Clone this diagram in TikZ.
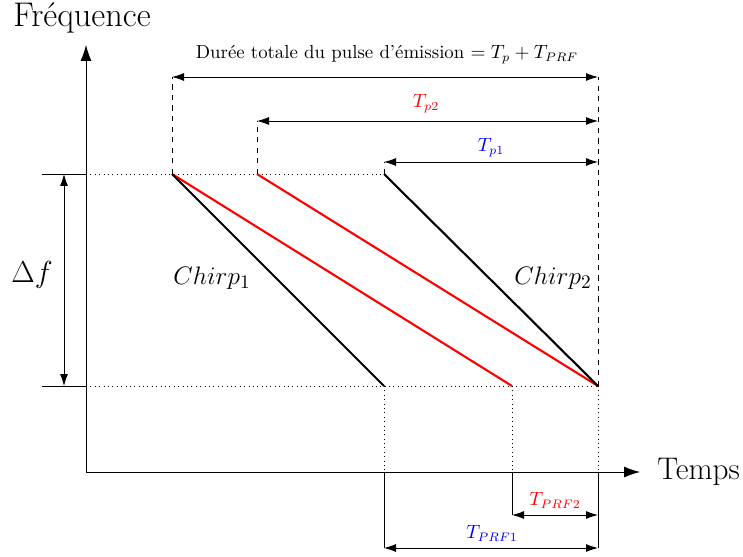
\documentclass[tikz,border=0pt]{standalone}
\usepackage{amsmath}
\usepackage{tikz}
\usetikzlibrary{calc,arrows.meta}
\tikzset{
  axis/.style={-{Latex[length=3.2mm,width=2.2mm]},line width=0.45pt},
  dim/.style={{Latex[length=2.4mm,width=1.6mm]}-{Latex[length=2.4mm,width=1.6mm]},line width=0.5pt},
  guide/.style={dotted,line width=0.5pt},
  ext/.style={dashed,line width=0.5pt},
  foot/.style={line width=0.5pt},
  chirpb/.style={line width=1.2pt,black},
  chirpr/.style={line width=1.2pt,red},
  big/.style={font=\fontsize{19.5}{23}\selectfont},
  bigs/.style={font=\fontsize{17.8}{21}\selectfont},
  mid/.style={font=\fontsize{15.3}{18}\selectfont},
  lab/.style={font=\fontsize{10.7}{13}\selectfont},
}

\begin{document}
\begin{tikzpicture}[x=0.02cm,y=-0.02cm]
  \useasboundingbox (0,0) rectangle (743,557);
  % points
  \coordinate (O) at (86,472);
  \coordinate (yend) at (86,45);
  \coordinate (xend) at (640,472);
  \coordinate (a1) at (172,174);
  \coordinate (a2) at (257,174);
  \coordinate (a3) at (384,174);
  \coordinate (b1) at (384,386);
  \coordinate (b2) at (512,386);
  \coordinate (b3) at (598,386);
  % axes
  \draw[axis] (O) -- (yend);
  \draw[axis] (O) -- (xend);
  \node[big] (freq) at (82,18) {Fréquence};
  \node[bigs,anchor=east,inner sep=1pt] (temps) at (742,472) {Temps};
  % delta f
  \coordinate (dl) at (42,174);
  \coordinate (dm) at (42,386);
  \draw[foot] (dl) -- (86,174);
  \draw[foot] (dm) -- (86,386);
  \draw[dim] (64,174) -- (64,386);
  \node[bigs] (df) at (32,275) {$\Delta f$};
  % guides
  \draw[guide] (86,174) -- (a3);
  \draw[guide] (86,386) -- (b3);
  \draw[guide] (b1) -- (b1 |- O);
  \draw[guide] (b2) -- (b2 |- O);
  \draw[guide] (b3) -- (b3 |- O);
  % chirps
  \draw[chirpr] (a1) -- (b2);
  \draw[chirpr] (a2) -- (b3);
  \draw[chirpb] (a1) -- (b1);
  \draw[chirpb] (a3) -- (b3);
  \node[mid] (c1) at (212,278) {$Chirp_1$};
  \node[mid] (c2) at (553,278) {$Chirp_2$};
  % top dimensions
  \draw[ext] (a1) -- (172,77);
  \draw[ext] (a2) -- (257,121);
  \draw[ext] (a3) -- (384,162);
  \draw[ext] (b3) -- (598,77);
  \draw[dim] (172,77) -- (598,77);
  \node[lab] (tot) at (387,55) {Durée totale du pulse d'émission $= T_p + T_{PRF}$};
  \draw[dim] (257,121) -- (598,121);
  \node[red,lab] (tp2) at (426,104) {$T_{p2}$};
  \draw[dim] (384,162) -- (598,162);
  \node[blue,lab] (tp1) at (491,148) {$T_{p1}$};
  % bottom dimensions
  \draw[foot] (b1 |- O) -- (384,548);
  \draw[foot] (b2 |- O) -- (512,515);
  \draw[foot] (b3 |- O) -- (598,548);
  \draw[dim] (512,515) -- (598,515);
  \node[red,lab] (tprf2) at (555,500) {$T_{PRF2}$};
  \draw[dim] (384,548) -- (598,548);
  \node[blue,lab] (tprf1) at (492,533) {$T_{PRF1}$};
\end{tikzpicture}
\end{document}
